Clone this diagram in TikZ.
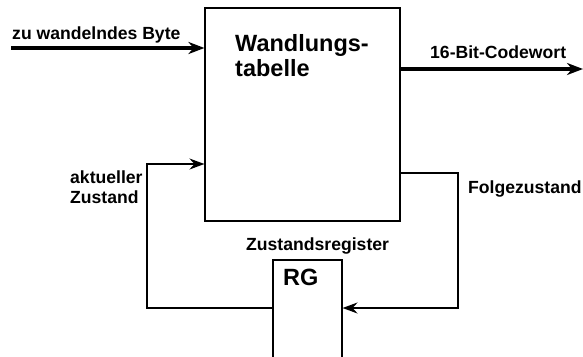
\documentclass[tikz,border=0pt]{standalone}
\usepackage{fontspec}
\setmainfont{Liberation Sans}
\usetikzlibrary{arrows.meta}
\begin{document}
\begin{tikzpicture}[x=1pt,y=-1pt,
  box/.style={draw,line width=1.1pt,inner sep=0pt},
  bigarrow/.style={line width=3.3pt,-{Stealth[length=16pt,width=12pt,inset=5pt]}},
  linkarrow/.style={line width=1.7pt,-{Stealth[length=15pt,width=11pt,inset=5pt]}},
  lbl/.style={font=\fontsize{17.6}{20}\selectfont\bfseries,inner sep=0pt,anchor=base west},
  big/.style={font=\fontsize{23.5}{25}\selectfont\bfseries,inner sep=0pt,anchor=base west,align=left}]
\clip (0,0) rectangle (583,356);
\node[box,minimum width=195pt,minimum height=213pt] (main) at (302.5,114.5) {};
\node[box,minimum width=69pt,minimum height=110pt] (rg) at (307.5,315) {};
\node[big] (wt) at (235,76.7) {Wandlungs-\\tabelle};
\node[big] (rgl) at (283,285) {RG};
\node[lbl] (lin) at (12,39) {zu wandelndes Byte};
\node[lbl] (lout) at (430,58) {16-Bit-Codewort};
\node[lbl] (lfol) at (468,193) {Folgezustand};
\node[lbl,align=left] (lakt) at (70,203) {aktueller\\Zustand};
\node[lbl] (lreg) at (246,250) {Zustandsregister};
\coordinate (inS) at (11,48);
\coordinate (outE) at (583,69);
\coordinate (fa) at (458,173);
\coordinate (fb) at (458,308);
\coordinate (ab) at (147,308);
\coordinate (at) at (147,164);
\draw[bigarrow] (inS) -- (inS -| main.west);
\draw[bigarrow] (main.east |- outE) -- (outE);
\draw[linkarrow] (main.east |- fa) -- (fa) -- (fb) -- (rg.east |- fb);
\draw[linkarrow] (rg.west |- ab) -- (ab) -- (at) -- (main.west |- at);
\end{tikzpicture}
\end{document}
